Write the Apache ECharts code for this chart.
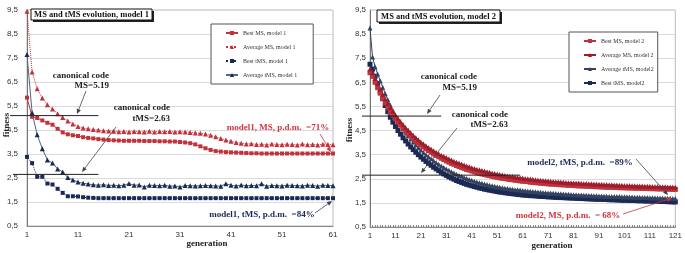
<!DOCTYPE html>
<html>
<head>
<meta charset="utf-8">
<script src="https://cdn.jsdelivr.net/npm/echarts@6/dist/echarts.min.js"></script>
<style>
html, body { margin: 0; padding: 0; background: #fff; }
#chart { width: 685px; height: 253px; }
</style>
</head>
<body>
<div id="chart"></div>
<script>
// model 1 : generations 1..61
const bestMS1 = [
  5.85, 5.05, 5.00, 4.90, 4.80, 4.72, 4.55, 4.40, 4.32, 4.28,
  4.25, 4.20, 4.17, 4.15, 4.12, 4.10, 4.08, 4.07, 4.06, 4.05,
  4.05, 4.05, 4.05, 4.04, 4.04, 4.04, 4.03, 4.03, 4.02, 4.02,
  4.00, 3.98, 3.95, 3.90, 3.82, 3.74, 3.67, 3.62, 3.60, 3.58,
  3.57, 3.56, 3.55, 3.54, 3.53, 3.53, 3.52, 3.52, 3.52, 3.52,
  3.52, 3.52, 3.52, 3.52, 3.52, 3.52, 3.52, 3.52, 3.52, 3.52, 3.52
];
const avgMS1 = [
  9.45, 6.92, 6.22, 5.83, 5.55, 5.38, 5.18, 5.02, 4.88, 4.75,
  4.65, 4.58, 4.55, 4.52, 4.50, 4.47, 4.46, 4.45, 4.43, 4.44,
  4.42, 4.44, 4.43, 4.42, 4.45, 4.42, 4.44, 4.43, 4.44, 4.42,
  4.43, 4.42, 4.40, 4.38, 4.36, 4.33, 4.28, 4.22, 4.15, 4.08,
  4.03, 3.98, 3.95, 3.92, 3.93, 3.90, 3.91, 3.88, 3.92, 3.90,
  3.89, 3.91, 3.90, 3.88, 3.92, 3.89, 3.90, 3.88, 3.91, 3.90, 3.89
];
const bestTMS1 = [
  3.38, 3.12, 2.55, 2.55, 2.27, 2.23, 2.05, 1.88, 1.74, 1.74,
  1.73, 1.70, 1.68, 1.67, 1.66, 1.66, 1.66, 1.66, 1.66, 1.66,
  1.66, 1.66, 1.66, 1.66, 1.66, 1.66, 1.66, 1.66, 1.66, 1.66,
  1.66, 1.66, 1.66, 1.66, 1.66, 1.66, 1.66, 1.66, 1.66, 1.66,
  1.66, 1.66, 1.66, 1.66, 1.66, 1.66, 1.66, 1.66, 1.66, 1.66,
  1.66, 1.66, 1.66, 1.66, 1.66, 1.66, 1.66, 1.66, 1.66, 1.66, 1.66
];
const avgTMS1 = [
  7.65, 5.22, 4.30, 3.72, 3.25, 3.12, 2.88, 2.75, 2.52, 2.42,
  2.33, 2.28, 2.25, 2.22, 2.20, 2.22, 2.19, 2.20, 2.18, 2.20,
  2.27, 2.20, 2.21, 2.13, 2.20, 2.19, 2.18, 2.20, 2.16, 2.17,
  2.12, 2.19, 2.18, 2.17, 2.18, 2.19, 2.18, 2.17, 2.16, 2.26,
  2.20, 2.17, 2.21, 2.18, 2.19, 2.18, 2.26, 2.16, 2.19, 2.18,
  2.17, 2.20, 2.19, 2.18, 2.17, 2.20, 2.19, 2.16, 2.20, 2.19, 2.18
];

// model 2 : generations 1..121
const bestMS2 = [
  6.90, 6.75, 6.50, 6.28, 6.05, 5.84, 5.65, 5.47, 5.30, 5.14,
  4.99, 4.85, 4.72, 4.60, 4.48, 4.37, 4.27, 4.17, 4.08, 3.99,
  3.90, 3.82, 3.74, 3.67, 3.60, 3.53, 3.47, 3.41, 3.35, 3.30,
  3.24, 3.19, 3.14, 3.10, 3.05, 3.01, 2.97, 2.93, 2.89, 2.86,
  2.82, 2.79, 2.76, 2.73, 2.70, 2.68, 2.65, 2.63, 2.60, 2.58,
  2.56, 2.54, 2.52, 2.51, 2.49, 2.47, 2.46, 2.44, 2.43, 2.41,
  2.40, 2.39, 2.38, 2.36, 2.35, 2.34, 2.33, 2.32, 2.31, 2.30,
  2.29, 2.28, 2.28, 2.27, 2.26, 2.25, 2.25, 2.24, 2.23, 2.23,
  2.22, 2.21, 2.21, 2.20, 2.20, 2.19, 2.19, 2.18, 2.18, 2.17,
  2.17, 2.16, 2.16, 2.15, 2.15, 2.15, 2.14, 2.14, 2.13, 2.13,
  2.13, 2.12, 2.12, 2.12, 2.11, 2.11, 2.11, 2.10, 2.10, 2.10,
  2.09, 2.09, 2.09, 2.08, 2.08, 2.08, 2.07, 2.07, 2.07, 2.06, 2.06
];
const avgMS2 = [
  7.05, 6.90, 6.66, 6.44, 6.22, 6.01, 5.81, 5.63, 5.46, 5.30,
  5.15, 5.01, 4.88, 4.75, 4.63, 4.52, 4.41, 4.31, 4.21, 4.12,
  4.03, 3.95, 3.87, 3.80, 3.73, 3.66, 3.60, 3.54, 3.48, 3.43,
  3.38, 3.33, 3.28, 3.23, 3.19, 3.15, 3.11, 3.07, 3.03, 3.00,
  2.96, 2.93, 2.90, 2.87, 2.84, 2.82, 2.79, 2.77, 2.74, 2.72,
  2.70, 2.68, 2.66, 2.64, 2.62, 2.60, 2.59, 2.57, 2.56, 2.54,
  2.53, 2.51, 2.50, 2.49, 2.48, 2.46, 2.45, 2.44, 2.43, 2.42,
  2.41, 2.40, 2.39, 2.38, 2.38, 2.37, 2.36, 2.35, 2.34, 2.34,
  2.33, 2.32, 2.32, 2.31, 2.30, 2.30, 2.29, 2.29, 2.28, 2.28,
  2.27, 2.27, 2.26, 2.26, 2.25, 2.25, 2.24, 2.24, 2.23, 2.23,
  2.22, 2.22, 2.22, 2.21, 2.21, 2.20, 2.20, 2.20, 2.19, 2.19,
  2.19, 2.18, 2.18, 2.18, 2.17, 2.17, 2.17, 2.16, 2.16, 2.16, 2.15
];
const avgTMS2 = [
  8.75, 7.55, 7.15, 6.85, 6.57, 6.30, 6.03, 5.78, 5.55, 5.33,
  5.12, 4.93, 4.75, 4.58, 4.43, 4.29, 4.15, 4.03, 3.91, 3.80,
  3.69, 3.59, 3.50, 3.41, 3.33, 3.25, 3.17, 3.10, 3.03, 2.97,
  2.91, 2.85, 2.79, 2.74, 2.69, 2.64, 2.60, 2.55, 2.51, 2.47,
  2.44, 2.40, 2.37, 2.34, 2.31, 2.28, 2.26, 2.23, 2.21, 2.19,
  2.17, 2.15, 2.13, 2.11, 2.10, 2.08, 2.07, 2.05, 2.04, 2.03,
  2.01, 2.00, 1.99, 1.98, 1.97, 1.96, 1.95, 1.94, 1.93, 1.92,
  1.91, 1.91, 1.90, 1.89, 1.88, 1.88, 1.87, 1.86, 1.86, 1.85,
  1.84, 1.84, 1.83, 1.83, 1.82, 1.82, 1.81, 1.81, 1.80, 1.80,
  1.79, 1.79, 1.78, 1.78, 1.77, 1.77, 1.77, 1.76, 1.76, 1.75,
  1.75, 1.75, 1.74, 1.74, 1.73, 1.73, 1.73, 1.72, 1.72, 1.72,
  1.71, 1.71, 1.71, 1.70, 1.70, 1.70, 1.69, 1.69, 1.69, 1.68, 1.68
];
const bestTMS2 = [
  7.25, 7.05, 6.75, 6.45, 6.12, 5.82, 5.54, 5.28, 5.05, 4.85,
  4.67, 4.50, 4.35, 4.20, 4.07, 3.94, 3.82, 3.71, 3.60, 3.50,
  3.40, 3.31, 3.22, 3.14, 3.06, 2.98, 2.91, 2.84, 2.77, 2.70,
  2.64, 2.58, 2.53, 2.48, 2.43, 2.39, 2.35, 2.31, 2.27, 2.24,
  2.21, 2.18, 2.15, 2.12, 2.10, 2.07, 2.05, 2.03, 2.01, 1.99,
  1.97, 1.95, 1.94, 1.92, 1.91, 1.89, 1.88, 1.87, 1.85, 1.84,
  1.83, 1.82, 1.81, 1.80, 1.80, 1.79, 1.78, 1.77, 1.77, 1.76,
  1.75, 1.75, 1.74, 1.73, 1.73, 1.72, 1.72, 1.71, 1.71, 1.70,
  1.70, 1.69, 1.69, 1.68, 1.68, 1.67, 1.67, 1.66, 1.66, 1.65,
  1.65, 1.65, 1.64, 1.64, 1.63, 1.63, 1.63, 1.62, 1.62, 1.61,
  1.61, 1.61, 1.60, 1.60, 1.60, 1.59, 1.59, 1.59, 1.58, 1.58,
  1.58, 1.57, 1.57, 1.57, 1.56, 1.56, 1.56, 1.55, 1.55, 1.54, 1.54
];

// canonical code levels, as drawn
const canonMS = 5.1;
const canonTMS = 2.65;

const gen1 = [];
for (let i = 1; i <= 61; i++) gen1.push(String(i));
const gen2 = [];
for (let i = 1; i <= 121; i++) gen2.push(String(i));

const RED = '#C2323C';
const DARKRED = '#9C1E2C';
const NAVY = '#1B2A55';
const STEEL = '#4E6683';
const SERIF = '"Liberation Serif", "DejaVu Serif", serif';
const SANS = '"Liberation Sans", Arial, sans-serif';

const chart = echarts.init(document.getElementById('chart'));

function yAxis(idx, margin) {
  return {
    type: 'value', gridIndex: idx, min: 0.5, max: 9.5, interval: 1,
    axisLine: { show: true, lineStyle: { color: '#777' } },
    axisTick: { show: false },
    axisLabel: {
      fontSize: 8, color: '#333', fontFamily: SANS, margin: margin,
      formatter: v => String(v).replace('.', ',')
    },
    splitLine: { lineStyle: { color: '#dadada' } }
  };
}

function xAxis(idx, data, ticks) {
  return {
    type: 'category', gridIndex: idx, data: data, boundaryGap: false,
    axisLine: { lineStyle: { color: '#888' } },
    axisTick: { show: ticks, interval: 0, inside: true, length: 2, lineStyle: { color: '#888' } },
    axisLabel: { interval: 9, fontSize: 8, color: '#333', fontFamily: SANS, margin: 5 }
  };
}

function line(name, data, axis, color, symbol, size, type, lineColor) {
  return {
    name: name, type: 'line', xAxisIndex: axis, yAxisIndex: axis, data: data,
    symbol: symbol, symbolSize: size, showAllSymbol: true,
    itemStyle: { color: color },
    lineStyle: { color: lineColor || color, width: 1, type: type },
    animation: false
  };
}

function legend(names, left, top, padRight) {
  return {
    data: names, orient: 'vertical', left: left, top: top,
    padding: [6, padRight, 6, 14], itemGap: 8, itemWidth: 12, itemHeight: 5,
    borderColor: '#555', borderWidth: 1, backgroundColor: '#fff',
    textStyle: { fontSize: 6, fontFamily: SERIF, color: '#333' }
  };
}

const option = {
  backgroundColor: '#fff',
  grid: [
    { left: 27, right: 352, top: 10, bottom: 27, show: true, borderColor: '#bbb', borderWidth: 1 },
    { left: 370, right: 6, top: 10, bottom: 26, show: true, borderColor: '#bbb', borderWidth: 1 }
  ],
  xAxis: [xAxis(0, gen1, false), xAxis(1, gen2, true)],
  yAxis: [yAxis(0, 9), yAxis(1, 4)],
  legend: [
    legend(['Best MS, model 1', 'Average MS, model 1', 'Best tMS, model 1', 'Average tMS, model 1'], 211, 24, 16),
    legend(['Best MS, model 2', 'Average MS, model 2', 'Average tMS, model2', 'Best tMS, model2'], 569, 32, 4)
  ],
  series: [
    line('Best MS, model 1', bestMS1, 0, RED, 'rect', 4, 'solid'),
    line('Average MS, model 1', avgMS1, 0, RED, 'triangle', 5, 'dotted'),
    line('Best tMS, model 1', bestTMS1, 0, NAVY, 'rect', 4, 'dotted'),
    line('Average tMS, model 1', avgTMS1, 0, NAVY, 'triangle', 5, 'solid', STEEL),
    line('Best tMS, model2', bestTMS2, 1, NAVY, 'rect', 5, 'solid'),
    line('Average tMS, model2', avgTMS2, 1, '#34435F', 'triangle', 5, 'solid'),
    line('Best MS, model 2', bestMS2, 1, RED, 'rect', 5, 'solid'),
    line('Average MS, model 2', avgMS2, 1, DARKRED, 'triangle', 5, 'solid')
  ]
};
chart.setOption(option);

// annotations
function txt(x, y, s, color, align, size, rot) {
  return {
    type: 'text', x: x, y: y, rotation: rot || 0, z: 20,
    style: {
      text: s, fill: color || '#222', align: align || 'center', verticalAlign: 'middle',
      fontFamily: SERIF, fontWeight: 'bold', fontSize: size || 9
    }
  };
}
function arrow(x1, y1, x2, y2, color) {
  const a = Math.atan2(y2 - y1, x2 - x1);
  const L = 5, W = 2.2;
  const bx = x2 - L * Math.cos(a), by = y2 - L * Math.sin(a);
  return [
    { type: 'line', z: 20, shape: { x1: x1, y1: y1, x2: bx, y2: by }, style: { stroke: color, lineWidth: 0.8 } },
    { type: 'polygon', z: 20, shape: { points: [[x2, y2], [bx - W * Math.sin(a), by + W * Math.cos(a)], [bx + W * Math.sin(a), by - W * Math.cos(a)]] }, style: { fill: color } }
  ];
}
function titleBox(x, y, w, h, s) {
  return [
    { type: 'rect', z: 19, shape: { x: x + 2, y: y + 2, width: w, height: h }, style: { fill: '#222' } },
    { type: 'rect', z: 19, shape: { x: x, y: y, width: w, height: h }, style: { fill: '#fff', stroke: '#111', lineWidth: 1 } },
    txt(x + w / 2, y + h / 2 + 0.5, s, '#111', 'center', 8.5)
  ];
}
function hline(grid, from, value, to) {
  const y = chart.convertToPixel({ yAxisIndex: grid }, value);
  const x2 = chart.convertToPixel({ xAxisIndex: grid }, to);
  return { type: 'line', z: 15, shape: { x1: from, y1: y, x2: x2, y2: y }, style: { stroke: '#222', lineWidth: 1 } };
}

const g = [].concat(
  titleBox(31, 9, 121, 11, 'MS and tMS evolution, model 1'),
  titleBox(377, 10, 123, 12, 'MS and tMS evolution, model 2'),
  [hline(0, 10, canonMS, '15'), hline(0, 13, canonTMS, '15'),
   hline(1, 362, canonMS, '29'), hline(1, 362, canonTMS, '60')],
  [txt(109, 76, 'canonical code', '#222', 'right'), txt(109, 86, 'MS=5.19', '#222', 'right'),
   txt(170, 108, 'canonical code', '#222', 'right'), txt(170, 119, 'tMS=2.63', '#222', 'right')],
  arrow(86, 91, 77, 114, '#444'),
  arrow(116, 127, 82, 172, '#444'),
  [txt(278, 128, 'model1, MS, p.d.m.  =71%', '#D3343F', 'center'),
   txt(262, 215, 'model1, tMS, p.d.m.  =84%', NAVY, 'center')],
  arrow(320, 134, 331, 152, '#D3343F'),
  arrow(315, 213, 332, 201, '#345'),
  [txt(477, 77, 'canonical code', '#222', 'right'), txt(477, 88, 'MS=5.19', '#222', 'right'),
   txt(508, 115, 'canonical code', '#222', 'right'), txt(508, 125, 'tMS=2.63', '#222', 'right')],
  arrow(440, 95, 427, 114, '#444'),
  arrow(457, 128, 421, 173, '#444'),
  [txt(580, 163, 'model2, tMS, p.d.m.  =89%', NAVY, 'center'),
   txt(568, 216, 'model2, MS, p.d.m.  = 68%', '#D3343F', 'center')],
  arrow(636, 159, 668, 195, '#345'),
  arrow(623, 214, 672, 198, '#D3343F'),
  [txt(7, 125, 'fitness', '#222', 'center', 9, Math.PI / 2),
   txt(350, 130, 'fitness', '#222', 'center', 9, Math.PI / 2),
   txt(207, 244, 'generation', '#222', 'center'),
   txt(552, 246, 'generation', '#222', 'center')]
);
chart.setOption({ graphic: g });
</script>
</body>
</html>
